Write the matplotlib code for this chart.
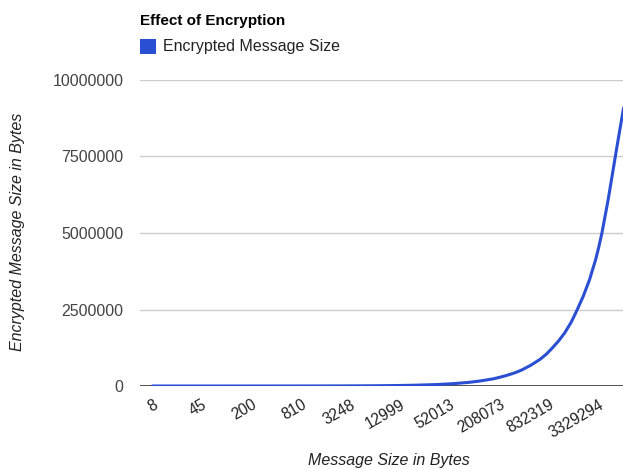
import matplotlib
matplotlib.use('Agg')
import matplotlib.pyplot as plt
from matplotlib.patches import Rectangle, PathPatch
from matplotlib.path import Path

# Размеры сообщений (каждая вторая подпись скрыта)
msg_sizes = ['8', '20', '45', '100', '200', '405', '810', '1624', '3248', '6499',
             '12999', '26006', '52013', '104036', '208073', '416159', '832319',
             '1664647', '3329294', '6658589']
enc_sizes = [44, 64, 88, 172, 300, 576, 1112, 2240, 4460, 8900,
             17770, 35520, 71040, 142060, 284100, 568180, 1136340,
             2272660, 4545300, 9090580]
y_ticks = [0, 2500000, 5000000, 7500000, 10000000]

plt.rcParams['font.family'] = ['Liberation Sans', 'DejaVu Sans']
W, H = 623, 469
fig = plt.figure(figsize=(W / 100, H / 100), dpi=100)
fig.patch.set_facecolor('white')

# область графика выходит за правый край картинки, как в оригинале
left, right, top, bottom = 140, 636, 80, 386
ax = fig.add_axes([left / W, 1 - bottom / H, (right - left) / W, (bottom - top) / H])

line_color = '#2a4fd2'
x = list(range(len(msg_sizes)))

# Сглаженная линия (кубические кривые Безье через точки данных)
n = len(x)
slopes = []
for i in range(n):
    if i == 0:
        slopes.append(enc_sizes[1] - enc_sizes[0])
    elif i == n - 1:
        slopes.append(enc_sizes[-1] - enc_sizes[-2])
    else:
        slopes.append((enc_sizes[i + 1] - enc_sizes[i - 1]) / 2)
verts = [(x[0], enc_sizes[0])]
codes = [Path.MOVETO]
for i in range(n - 1):
    verts += [(x[i] + 1 / 3, enc_sizes[i] + slopes[i] / 3),
              (x[i + 1] - 1 / 3, enc_sizes[i + 1] - slopes[i + 1] / 3),
              (x[i + 1], enc_sizes[i + 1])]
    codes += [Path.CURVE4] * 3
ax.add_patch(PathPatch(Path(verts, codes), facecolor='none', edgecolor=line_color,
                       linewidth=2.2, capstyle='round', zorder=3))

ax.set_xlim(-0.5, len(msg_sizes) - 0.5)
ax.set_ylim(0, 10000000)

# Сетка
ax.set_yticks(y_ticks)
ax.set_yticklabels([str(v) for v in y_ticks], fontsize=11.5, color='#444444')
ax.yaxis.grid(True, color='#cccccc', linewidth=1)
ax.set_axisbelow(True)
ax.axhline(0, color='#333333', linewidth=1.2, zorder=2)
ax.tick_params(axis='y', length=0, pad=12)

ax.set_xticks(x[::2])
ax.set_xticklabels(msg_sizes[::2], fontsize=11.2, color='#222222',
                   rotation=30, ha='right', rotation_mode='anchor')
ax.tick_params(axis='x', length=0, pad=8)
for s in ax.spines.values():
    s.set_visible(False)

# Подписи осей
fig.text(18 / W, 1 - 232 / H, 'Encrypted Message Size in Bytes', rotation=90,
         ha='center', va='center', fontsize=11.5, style='italic', color='#222222')
fig.text(389 / W, 1 - 460 / H, 'Message Size in Bytes', ha='center', va='center',
         fontsize=11.5, style='italic', color='#222222')

# Заголовок и легенда
fig.text(140 / W, 1 - 21 / H, 'Effect of Encryption', ha='left', va='center',
         fontsize=11, fontweight='bold', color='#000000')
fig.patches.append(Rectangle((140 / W, 1 - 54 / H), 16 / W, 15 / H,
                             transform=fig.transFigure, facecolor=line_color,
                             edgecolor='none'))
fig.text(163 / W, 1 - 46 / H, 'Encrypted Message Size', ha='left', va='center',
         fontsize=11.5, color='#222222')

plt.savefig('out.png', dpi=100)
plt.close()
